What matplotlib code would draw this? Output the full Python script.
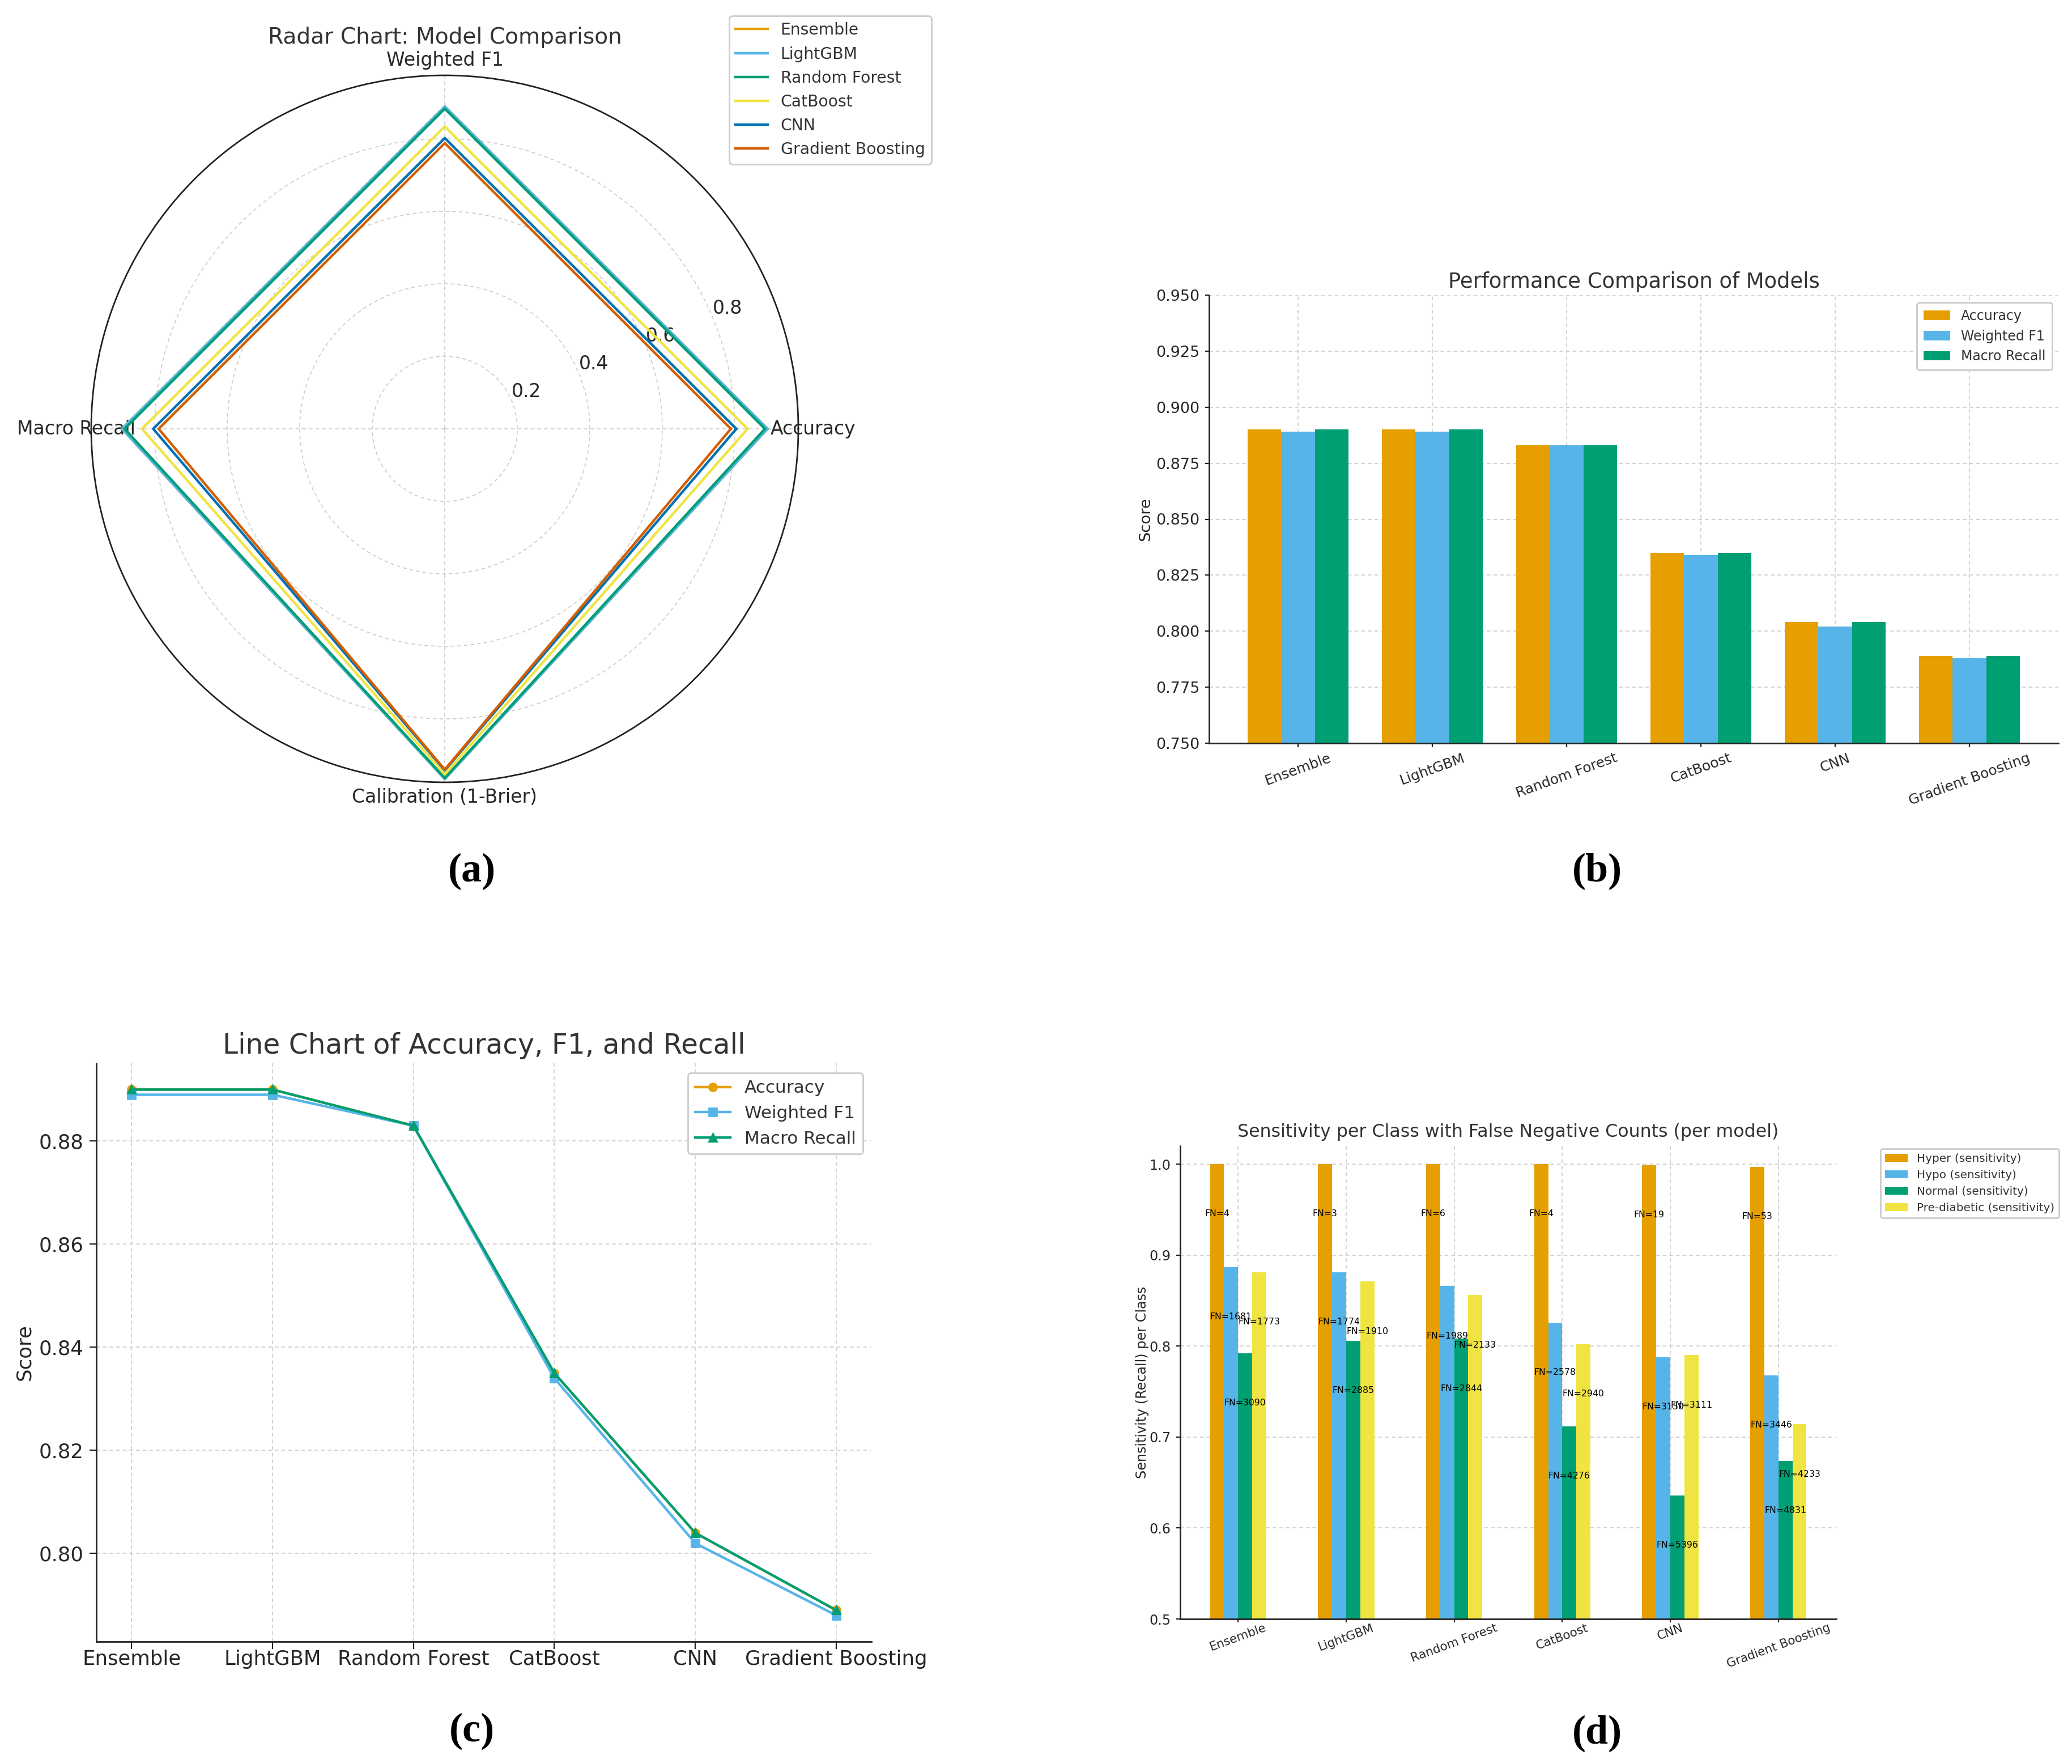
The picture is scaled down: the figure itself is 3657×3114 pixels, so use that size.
import numpy as np
import matplotlib
matplotlib.use("Agg")
import matplotlib.pyplot as plt

W, H = 3657, 3114
DPI = 200

# ---------------- data ----------------
models = ["Ensemble", "LightGBM", "Random Forest", "CatBoost", "CNN", "Gradient Boosting"]
accuracy = [0.890, 0.890, 0.883, 0.835, 0.804, 0.789]
weighted_f1 = [0.889, 0.889, 0.883, 0.834, 0.802, 0.788]
macro_recall = [0.890, 0.890, 0.883, 0.835, 0.804, 0.789]
calibration = [0.966, 0.966, 0.963, 0.953, 0.942, 0.940]

radar_metrics = ["Accuracy", "Weighted F1", "Macro Recall", "Calibration (1-Brier)"]
metric_names = ["Accuracy", "Weighted F1", "Macro Recall"]

class_names = ["Hyper (sensitivity)", "Hypo (sensitivity)",
               "Normal (sensitivity)", "Pre-diabetic (sensitivity)"]
sens_hyper = [1.000, 1.000, 1.000, 1.000, 0.999, 0.997]
sens_hypo = [0.887, 0.881, 0.866, 0.826, 0.788, 0.768]
sens_normal = [0.792, 0.806, 0.808, 0.712, 0.636, 0.674]
sens_pre = [0.881, 0.871, 0.856, 0.802, 0.790, 0.714]
fn_hyper = [4, 3, 6, 4, 19, 53]
fn_hypo = [1681, 1774, 1989, 2578, 3150, 3446]
fn_normal = [3090, 2885, 2844, 4276, 5396, 4831]
fn_pre = [1773, 1910, 2133, 2940, 3111, 4233]

# ---------------- style ----------------
ORANGE, SKY, GREEN, YELLOW, BLUE, VERM = "#E69F00", "#56B4E9", "#009E73", "#F0E442", "#0072B2", "#D55E00"
model_colors = [ORANGE, SKY, GREEN, YELLOW, BLUE, VERM]
metric_colors = [ORANGE, SKY, GREEN]
class_colors = [ORANGE, SKY, GREEN, YELLOW]
TXT = "#262626"
TTL = "#333333"
GRID = dict(linestyle=(0, (4, 3)), color="#cccccc", linewidth=0.6)

plt.rcParams["font.family"] = ["DejaVu Sans"]

fig = plt.figure(figsize=(W / DPI, H / DPI), dpi=DPI)


def rect(l, t, r, b):
    return [l / W, 1 - b / H, (r - l) / W, (b - t) / H]


def style_cart(ax, tick_len):
    for s in ["top", "right"]:
        ax.spines[s].set_visible(False)
    for s in ["left", "bottom"]:
        ax.spines[s].set_color("#222222")
        ax.spines[s].set_linewidth(1.0)
    ax.tick_params(colors="#222222", labelcolor=TXT, length=tick_len, width=0.8)
    ax.grid(True, **GRID)
    ax.set_axisbelow(True)


def legend_style(leg):
    fr = leg.get_frame()
    fr.set_edgecolor("#cccccc")
    fr.set_linewidth(1.0)
    fr.set_alpha(1.0)
    for t in leg.get_texts():
        t.set_color(TTL)


# ---------------- (a) radar ----------------
axA = fig.add_axes(rect(161, 133, 1409, 1381), polar=True)
angles = np.linspace(0, 2 * np.pi, len(radar_metrics), endpoint=False).tolist()
angles_c = angles + angles[:1]
for i, m in enumerate(models):
    vals = [accuracy[i], weighted_f1[i], macro_recall[i], calibration[i]]
    vals = vals + vals[:1]
    axA.plot(angles_c, vals, color=model_colors[i], linewidth=1.6, label=m)
axA.set_xticks(angles)
axA.set_xticklabels(radar_metrics, fontsize=11.9, color=TXT)
axA.tick_params(axis="x", pad=-1)
axA.set_ylim(0, 0.975)
axA.set_yticks([0.2, 0.4, 0.6, 0.8])
axA.set_yticklabels(["0.2", "0.4", "0.6", "0.8"], fontsize=11.9, color=TXT)
axA.grid(True, **GRID)
axA.spines["polar"].set_color("#222222")
axA.spines["polar"].set_linewidth(1.0)
axA.set_title("Radar Chart: Model Comparison", fontsize=14.1, color=TTL, y=1.045, pad=0)
legA = axA.legend(loc="upper right", bbox_to_anchor=(1644 / W, 1 - 28 / H),
                  bbox_transform=fig.transFigure, borderaxespad=0, fontsize=10.2)
legend_style(legA)

# ---------------- (b) grouped bars ----------------
axB = fig.add_axes(rect(2134, 521, 3633, 1312))
x = np.arange(len(models))
wb = 0.25
for j, (vals, name) in enumerate(zip([accuracy, weighted_f1, macro_recall], metric_names)):
    axB.bar(x + (j - 1) * wb, vals, wb, color=metric_colors[j], label=name)
axB.set_ylim(0.75, 0.95)
yt = np.arange(0.75, 0.9501, 0.025)
axB.set_yticks(yt)
axB.set_yticklabels([f"{v:.3f}" for v in yt], fontsize=9.75)
axB.set_xticks(x)
axB.set_xticklabels(models, rotation=20, fontsize=9.0)
axB.set_ylabel("Score", fontsize=9.9, color=TXT, labelpad=1.5)
axB.set_title("Performance Comparison of Models", fontsize=13.3, color=TTL, pad=4.5)
style_cart(axB, 2.5)
axB.tick_params(axis="x", pad=2.5)
legB = axB.legend(loc="upper right", bbox_to_anchor=(3622 / W, 1 - 534 / H),
                  bbox_transform=fig.transFigure, borderaxespad=0, fontsize=8.5,
                  borderpad=0.5)
legend_style(legB)

# ---------------- (c) line chart ----------------
axC = fig.add_axes(rect(170, 1877, 1538, 2898))
markers = ["o", "s", "^"]
for j, (vals, name) in enumerate(zip([accuracy, weighted_f1, macro_recall], metric_names)):
    axC.plot(models, vals, color=metric_colors[j], marker=markers[j], linewidth=1.6,
             markersize=5, label=name)
yc = [0.80, 0.82, 0.84, 0.86, 0.88]
axC.set_yticks(yc)
axC.set_yticklabels([f"{v:.2f}" for v in yc], fontsize=12.8)
axC.tick_params(axis="x", labelsize=12.8)
axC.set_ylabel("Score", fontsize=12.8, color=TXT, labelpad=3)
axC.set_title("Line Chart of Accuracy, F1, and Recall", fontsize=17.5, color=TTL, pad=6)
style_cart(axC, 4.5)
axC.tick_params(axis="x", pad=0.5)
legC = axC.legend(loc="upper right", bbox_to_anchor=(1523 / W, 1 - 1894 / H),
                  bbox_transform=fig.transFigure, borderaxespad=0, fontsize=11.2)
legend_style(legC)

# ---------------- (d) sensitivity bars ----------------
axD = fig.add_axes(rect(2083, 2023, 3241, 2858))
wd = 0.13
sens = [sens_hyper, sens_hypo, sens_normal, sens_pre]
fns = [fn_hyper, fn_hypo, fn_normal, fn_pre]
for k in range(4):
    xs = x + (k - 1.5) * wd
    axD.bar(xs, sens[k], wd, color=class_colors[k], label=class_names[k])
    for xi, v, fn in zip(xs, sens[k], fns[k]):
        axD.text(xi, v - 0.05, f"FN={fn}", ha="center", va="top", fontsize=5.7, color="black")
axD.set_ylim(0.5, 1.02)
yd = [0.5, 0.6, 0.7, 0.8, 0.9, 1.0]
axD.set_yticks(yd)
axD.set_yticklabels([f"{v:.1f}" for v in yd], fontsize=8.6)
axD.set_xticks(x)
axD.set_xticklabels(models, rotation=20, fontsize=7.7)
axD.set_ylabel("Sensitivity (Recall) per Class", fontsize=8.6, color=TXT, labelpad=0)
axD.set_title("Sensitivity per Class with False Negative Counts (per model)",
              fontsize=11.4, color=TTL, pad=5.8)
style_cart(axD, 2.5)
axD.tick_params(axis="x", length=2, pad=0)
legD = axD.legend(loc="upper left", bbox_to_anchor=(3319 / W, 1 - 2028 / H),
                  bbox_transform=fig.transFigure, borderaxespad=0, fontsize=7.2)
legend_style(legD)

# ---------------- panel labels ----------------
for lab, (px, py) in zip(["(a)", "(b)", "(c)", "(d)"],
                         [(833, 1538), (2819, 1538), (833, 3056), (2819, 3060)]):
    fig.text(px / W, 1 - py / H, lab, ha="center", va="center", fontsize=26,
             fontweight="bold", family=["Liberation Serif", "DejaVu Serif"], color="black")

fig.savefig("out.png", dpi=DPI, facecolor="white")
